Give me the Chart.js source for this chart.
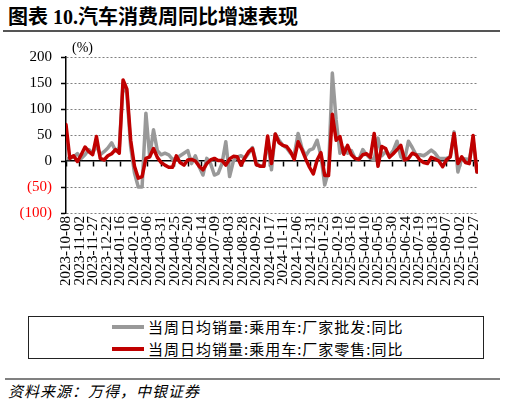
<!DOCTYPE html>
<html>
<head>
<meta charset="utf-8">
<script src="https://cdn.jsdelivr.net/npm/chart.js@4.4.1/dist/chart.umd.min.js"></script>
<style>
  body { margin: 0; width: 505px; height: 405px; background: #fff; position: relative; overflow: hidden; font-family: "Noto Sans CJK SC", sans-serif; }
  .abs { position: absolute; white-space: nowrap; }
  #title { left: 8px; top: 5px; font: bold 20px/24px "Liberation Serif", "Noto Sans CJK SC", serif; color: #000; }
  #titleRule { left: 3px; top: 30px; width: 497px; height: 2px; background: #555; }
  #unit { left: 72px; top: 40px; font: 14px/16px "Liberation Serif", serif; }
  #chartBox { left: 0; top: 0; width: 505px; height: 300px; }
  #legendBox { left: 28px; top: 316px; width: 456px; height: 43px; border: 1px solid #222; box-sizing: border-box; }
  .swatch { left: 112px; width: 32px; height: 3.5px; }
  .legTxt { left: 148px; font-size: 15px; line-height: 18px; letter-spacing: 1px; color: #000; }
  #srcRule { left: 5px; top: 378px; width: 495px; height: 2px; background: #808080; }
  #source { left: 8px; top: 382px; font-size: 15px; line-height: 18px; font-style: italic; letter-spacing: 1px; }
</style>
</head>
<body>
<div id="title" class="abs">图表 10.汽车消费周同比增速表现</div>
<div id="titleRule" class="abs"></div>
<div id="chartBox" class="abs"><canvas id="lineChart" width="505" height="300"></canvas></div>
<div id="unit" class="abs">(%)</div>
<div id="legendBox" class="abs"></div>
<div class="abs swatch" style="top:325px;background:#999999"></div>
<div class="abs legTxt" style="top:318px">当周日均销量:乘用车:厂家批发:同比</div>
<div class="abs swatch" style="top:347px;background:#C00000"></div>
<div class="abs legTxt" style="top:340px">当周日均销量:乘用车:厂家零售:同比</div>
<div id="srcRule" class="abs"></div>
<div id="source" class="abs">资料来源：万得，中银证券</div>

<script>
// weekly points starting 2023-10-08
var startDate = Date.UTC(2023, 9, 8);
var stepDays = 7;
var axisMaxDay = 758;

// 当周日均销量:乘用车:厂家批发:同比 (%)
var wholesale = [
  5, 5, 8, 14, 5, 12, 22, 15, 30, 12,
  18, 25, 35, 20, 25, 150, 130, 27, -23, -50,
  -50, 92, 8, 60, 20, 12, 15, 12, 3, 5,
  10, 15, 20, -5, 10, -11, -27, 5, -5, -27,
  -24, -5, 37, -30, 0, 8, 10, 5, 15, 26,
  -3, -10, -10, 40, -17, 52, 40, 30, 25, 15,
  12, 53, 25, 10, 21, 24, 40, 10, -46, -20,
  169, 79, 15, 25, 15, 20, 5, 3, 22, 12,
  5, 2, 44, 10, 18, 10, 20, 38, 8, 2,
  38, 26, 12, 12, 10, 15, 21, 15, 5, 5,
  5, 8, 56, -21, 5, 4, 3, 40, -21
];

// 当周日均销量:乘用车:厂家零售:同比 (%)
var retail = [
  70, 5, 10, -1, 12, 27, 18, 12, 47, 5,
  2, 10, 14, 22, 15, 156, 138, 40, -10, -33,
  -30, 5, 8, 24, 7, -3, -8, -12, -12, 10,
  -3, -8, 2, 3, 0, -10, -17, -5, 2, 5,
  1, 1, -8, 4, 9, 8, -8, 6, 18, 24,
  -7, -10, -10, 48, -5, 52, 35, 30, 28, 18,
  3, 37, 22, 4, -12, -25, 2, 16, -28, -28,
  90, 40, 47, 13, 30, 12, 5, 3, 12, 14,
  7, 53, -10, 28, 24, 7, 14, 22, 30, 2,
  5, 15, 12, 2, -3, -5, 7, 4, 0, -11,
  2, 8, 53, -5, 8, -3, -5, 49, -21
];

var yTicks = [-100, -50, 0, 50, 100, 150, 200];

function toPoints(arr) {
  return arr.map(function (v, i) { return { x: i * stepDays, y: v }; });
}

function dayLabel(d) {
  return new Date(startDate + d * 86400000).toISOString().slice(0, 10);
}

document.addEventListener('DOMContentLoaded', function () {
  var ctx = document.getElementById('lineChart').getContext('2d');
  new Chart(ctx, {
    type: 'line',
    data: {
      datasets: [{
        label: '当周日均销量:乘用车:厂家零售:同比',
        data: toPoints(retail),
        borderColor: '#C00000',
        borderWidth: 3.5,
        pointRadius: 0,
        tension: 0,
        borderJoinStyle: 'round',
        borderCapStyle: 'round'
      }, {
        label: '当周日均销量:乘用车:厂家批发:同比',
        data: toPoints(wholesale),
        borderColor: '#999999',
        borderWidth: 3.5,
        pointRadius: 0,
        tension: 0,
        borderJoinStyle: 'round',
        borderCapStyle: 'round'
      }]
    },
    options: {
      responsive: false,
      animation: false,
      layout: { padding: { top: 57, right: 27, bottom: 0, left: 0 } },
      plugins: { legend: { display: false }, tooltip: { enabled: false } },
      scales: {
        x: {
          type: 'linear',
          position: { y: 0 },
          min: 0,
          max: axisMaxDay,
          ticks: { display: false, stepSize: 25, includeBounds: false },
          grid: { display: true, drawOnChartArea: false, drawTicks: true, tickLength: 5, tickColor: '#000', tickWidth: 1.5 },
          border: { display: true, color: '#000', width: 1.5 }
        },
        x2: {
          type: 'linear',
          position: 'bottom',
          min: 0,
          max: axisMaxDay,
          afterFit: function (s) { s.height = 87; },
          grid: { display: false, drawTicks: false },
          border: { display: false },
          ticks: {
            stepSize: 25,
            includeBounds: false,
            autoSkip: false,
            minRotation: 90,
            maxRotation: 90,
            padding: 3,
            color: '#000',
            font: { family: 'Liberation Serif', size: 15 },
            callback: function (v) { return dayLabel(v); }
          }
        },
        y: {
          min: yTicks[0],
          max: yTicks[yTicks.length - 1],
          afterFit: function (s) { s.width = 66; },
          afterBuildTicks: function (s) { s.ticks = yTicks.map(function (v) { return { value: v }; }); },
          ticks: {
            padding: 9,
            font: { family: 'Liberation Serif', size: 15 },
            color: function (c) { return c.tick && c.tick.value < 0 ? '#FF0000' : '#000'; },
            callback: function (v) { return v < 0 ? '(' + Math.abs(v) + ')' : String(v); }
          },
          grid: {
            color: function (c) { return c.tick && c.tick.value === 0 ? 'rgba(0,0,0,0)' : '#808080'; },
            lineWidth: 1,
            drawTicks: true,
            tickLength: 5,
            tickColor: '#000',
            tickWidth: 1.5
          },
          border: { display: true, color: '#000', width: 1.5, dash: [2, 2] }
        }
      }
    }
  });
});
</script>
</body>
</html>
